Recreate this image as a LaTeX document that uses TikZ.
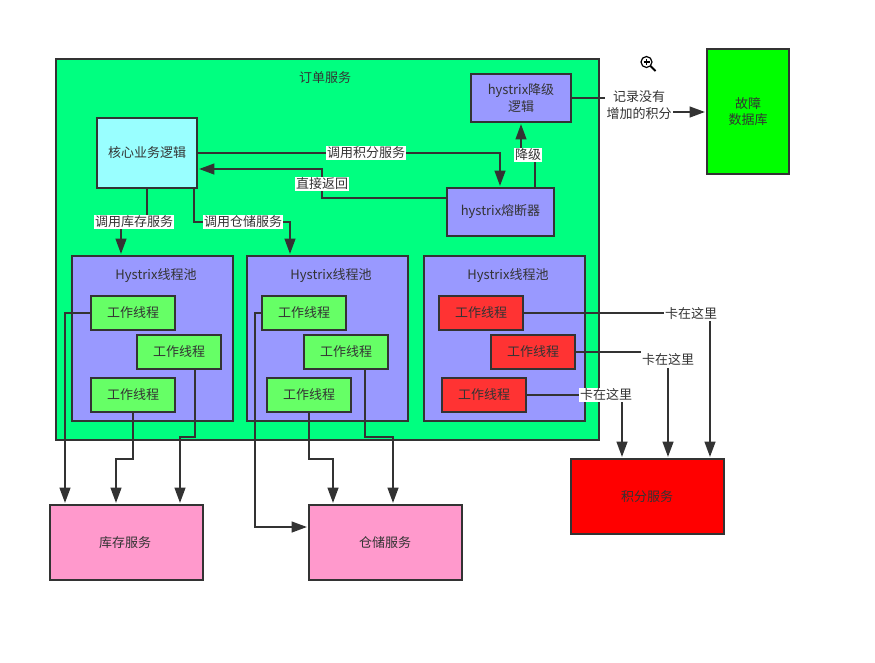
\documentclass[tikz,border=0pt]{standalone}
\usepackage{fontspec}
\setmainfont{Noto Sans CJK SC}
\usetikzlibrary{arrows.meta}
\definecolor{ink}{HTML}{333333}
\newcommand{\bx}[7][]{%
  \node[boxbase,#6,minimum width={(#4-#2)*0.75pt},minimum height={(#5-#3)*0.75pt},#1]
    (#7) at ({(#2+#4)/2},{(#3+#5)/2}) {};}
\tikzset{
  boxbase/.style={draw=ink,line width=1.6pt,rectangle,outer sep=0pt,inner sep=0pt,text=ink,font=\fontsize{9.75pt}{12.2pt}\selectfont,align=center},
  ordercol/.style={fill=orderg},
  poolcol/.style={fill=poolb},
  workg/.style={fill=workgc},
  workr/.style={fill=workrc},
  pinkbox/.style={fill=pinkc},
  txt/.style={text=ink,font=\fontsize{9.75pt}{12.2pt}\selectfont,align=center,inner sep=0pt,outer sep=0pt},
  lbl/.style={txt,fill=white,inner xsep=0.5pt,inner ysep=1pt},
  wire/.style={draw=ink,line width=1.6pt},
  arrow/.style={wire,-{Triangle[length=11.5pt,width=8pt]},shorten >=1.5pt},
}
\definecolor{orderg}{HTML}{00FF80}
\definecolor{poolb}{HTML}{9999FF}
\definecolor{workgc}{HTML}{66FF66}
\definecolor{workrc}{HTML}{FF3333}
\definecolor{pinkc}{HTML}{FF99CC}
\definecolor{cyanc}{HTML}{99FFFF}
\begin{document}
\begin{tikzpicture}[x=0.75pt,y=-0.75pt]
\useasboundingbox (0,0) rectangle (875,662);
% containers
\bx{56}{59}{599}{440}{ordercol}{order}
\bx{72}{256}{233}{421}{poolcol}{poolA}
\bx{247}{256}{408}{421}{poolcol}{poolB}
\bx{424}{256}{585}{421}{poolcol}{poolC}
% boxes
\bx{97}{118}{197}{188}{fill=cyanc}{core}
\bx{471}{74}{571}{122}{poolcol}{degrade}
\bx{447}{188}{554}{236}{poolcol}{fuse}
\bx{707}{49}{789}{174}{fill=green}{db}
\bx{91}{296}{175}{330}{workg}{aone}
\bx{137}{335}{221}{369}{workg}{atwo}
\bx{91}{378}{175}{412}{workg}{athree}
\bx{262}{296}{346}{330}{workg}{bone}
\bx{304}{335}{388}{369}{workg}{btwo}
\bx{267}{378}{351}{412}{workg}{bthree}
\bx{439}{296}{523}{330}{workr}{cone}
\bx{491}{335}{575}{369}{workr}{ctwo}
\bx{442}{378}{526}{412}{workr}{cthree}
\bx{50}{505}{203}{580}{pinkbox}{stock}
\bx{309}{505}{462}{580}{pinkbox}{ware}
\bx{571}{459}{724}{534}{fill=red}{points}
% box texts
\node[txt] (tOrder) at (325,78) {订单服务};
\node[txt] (tPoolA) at (156,276) {Hystrix线程池};
\node[txt] (tPoolB) at (331,276) {Hystrix线程池};
\node[txt] (tPoolC) at (508,276) {Hystrix线程池};
\node[txt] at (core.center) {核心业务逻辑};
\node[txt] at (degrade.center) {hystrix降级\\逻辑};
\node[txt] at (fuse.center) {hystrix熔断器};
\node[txt] at (db.center) {故障\\数据库};
\foreach \w in {aone,atwo,athree,bone,btwo,bthree,cone,ctwo,cthree}
  \node[txt] at (\w.center) {工作线程};
\node[txt] at (125,543) {库存服务};
\node[txt] at (385,543) {仓储服务};
\node[txt] at (647,497) {积分服务};
% connectors
\draw[arrow] (core.east) -- (500,153) -- (fuse.north -| 500,0);
\draw[arrow] (fuse.west |- 0,198) -- (322,198) -- (322,169) -- (core.east |- 0,169);
\draw[arrow] (core.south -| 147,0) -- (147,222) -- (121,222) -- (poolA.north -| 121,0);
\draw[arrow] (core.south -| 194,0) -- (194,222) -- (290,222) -- (poolB.north -| 290,0);
\draw[arrow] (fuse.north -| 535,0) -- (535,155) -- (521,155) -- (degrade.south -| 521,0);
\draw[arrow] (degrade.east |- 0,98) -- (638,98) -- (638,112) -- (db.west |- 0,112);
\draw[arrow] (aone.west) -- (65,313) -- (stock.north -| 65,0);
\draw[arrow] (athree.south) -- (133,459) -- (116,459) -- (stock.north -| 116,0);
\draw[arrow] (atwo.south -| 195,0) -- (195,437) -- (180,437) -- (stock.north -| 180,0);
\draw[arrow] (bone.west) -- (255,313) -- (255,527) -- (ware.west |- 0,527);
\draw[arrow] (bthree.south) -- (309,459) -- (333,459) -- (ware.north -| 333,0);
\draw[arrow] (btwo.south -| 365,0) -- (365,437) -- (393,437) -- (ware.north -| 393,0);
\draw[arrow] (cone.east) -- (710,313) -- (points.north -| 710,0);
\draw[arrow] (ctwo.east) -- (668,352) -- (points.north -| 668,0);
\draw[arrow] (cthree.east) -- (622,395) -- (points.north -| 622,0);
% connector labels
\node[lbl] (lPoints) at (366,153) {调用积分服务};
\node[lbl] (lReturn) at (322,184) {直接返回};
\node[lbl] (lStock) at (134,222) {调用库存服务};
\node[lbl] (lWare) at (243,222) {调用仓储服务};
\node[lbl] (lDegrade) at (528,155) {降级};
\node[lbl,inner xsep=1pt] (lRecord) at (639,105) {记录没有\\增加的积分};
\node[lbl] (lStuckA) at (691,314) {卡在这里};
\node[lbl,minimum height=12.75pt] (lStuckB) at (668,359.5) {卡在这里};
\node[lbl] (lStuckC) at (606,395) {卡在这里};
% magnifier icon
\draw[black,line width=0.9pt,fill=white] (646.5,62) circle (5.5);
\draw[black,line width=0.9pt] (643.5,62) -- (649.5,62) (646.5,59) -- (646.5,65);
\draw[black,line width=1.4pt] (650.5,66) -- (655.5,71);
\end{tikzpicture}
\end{document}
